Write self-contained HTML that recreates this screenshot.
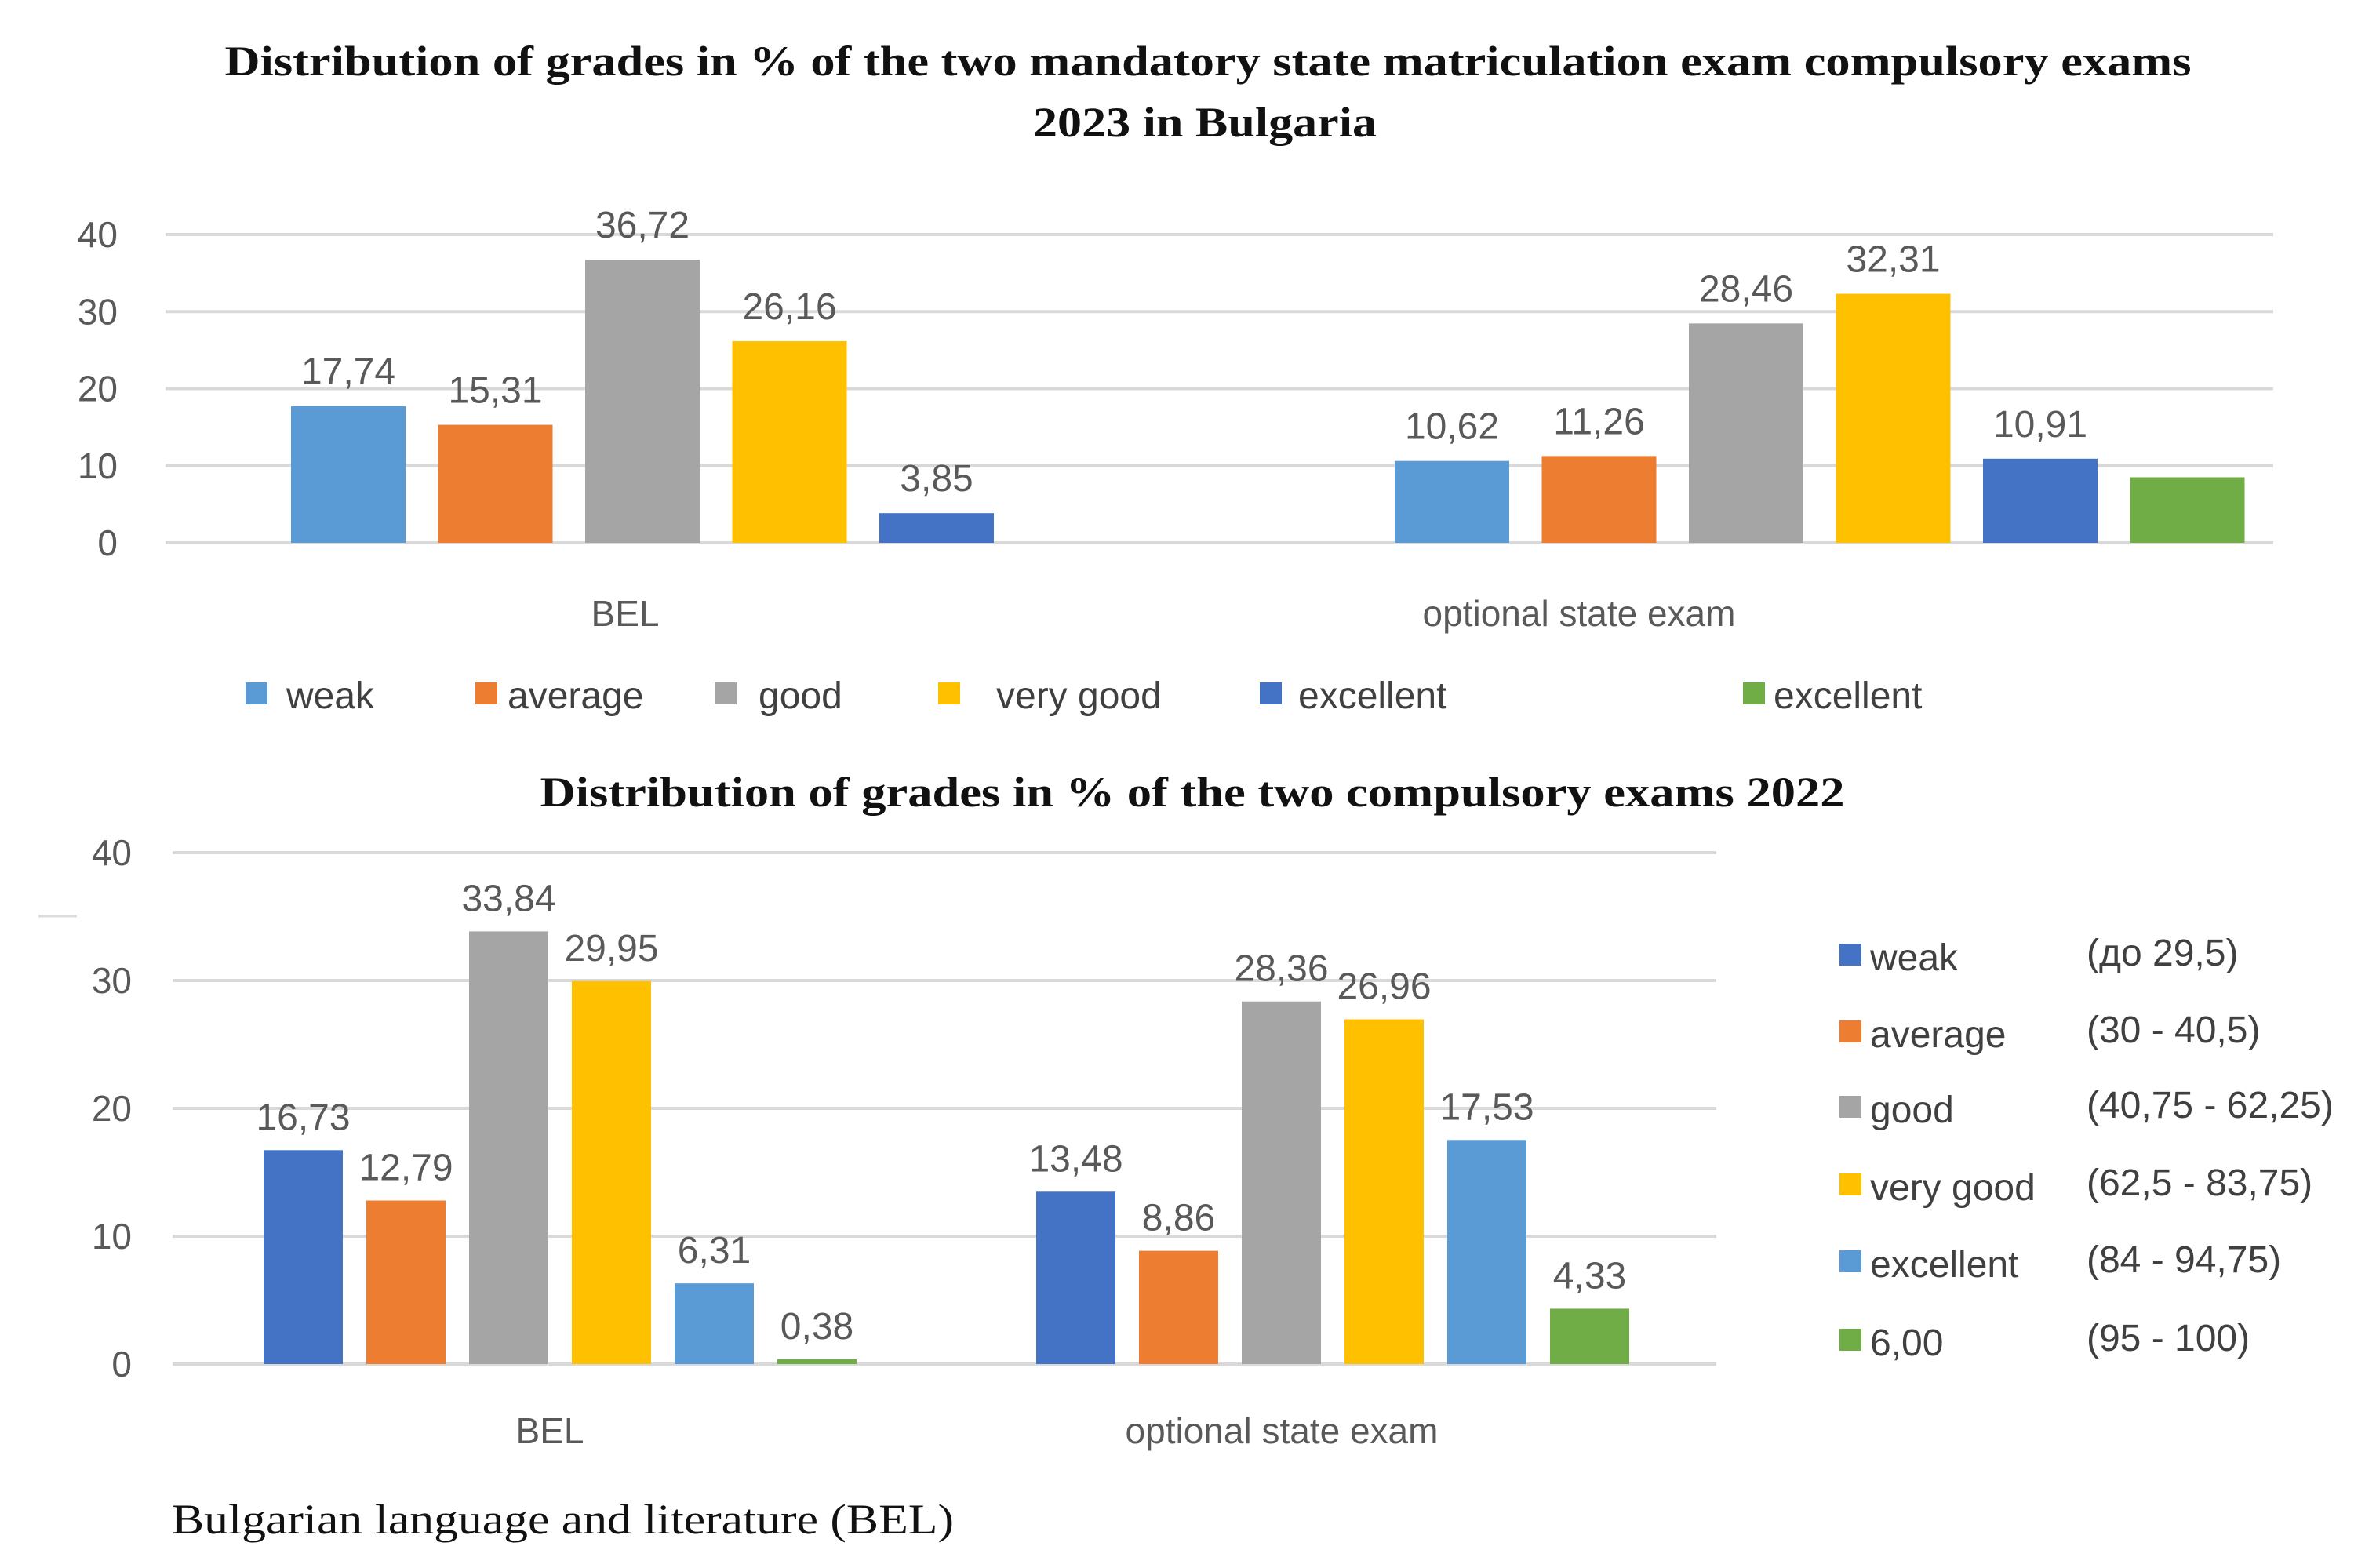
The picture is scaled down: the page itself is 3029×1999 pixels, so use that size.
<!DOCTYPE html>
<html><head><meta charset="utf-8"><style>
html,body{margin:0;padding:0;background:#fff}
svg{display:block}
text{font-family:"Liberation Sans","DejaVu Sans",sans-serif}
text.t{font-family:"Liberation Serif",serif;font-weight:bold;fill:#111}
text.f{font-family:"Liberation Serif",serif;fill:#111}
.v{fill:#595959;font-size:48px}
.ax{fill:#595959;font-size:46px}
.lg{fill:#404040;font-size:48px}
</style></head><body>
<svg id="c" width="3029" height="1999" viewBox="0 0 3029 1999" xmlns="http://www.w3.org/2000/svg">
<text class="t" x="1540" y="96" font-size="54" text-anchor="middle" textLength="2507" lengthAdjust="spacingAndGlyphs">Distribution of grades in % of the two mandatory state matriculation exam compulsory exams</text>
<text class="t" x="1536" y="174" font-size="54" text-anchor="middle" textLength="438" lengthAdjust="spacingAndGlyphs">2023 in Bulgaria</text>
<text class="t" x="1520" y="1028" font-size="54" text-anchor="middle" textLength="1663" lengthAdjust="spacingAndGlyphs">Distribution of grades in % of the two compulsory exams 2022</text>
<text class="f" x="219" y="1955" font-size="54" textLength="997" lengthAdjust="spacingAndGlyphs">Bulgarian language and literature (BEL)</text>
<line x1="49" y1="1168" x2="98" y2="1168" stroke="#ddd" stroke-width="3"/>
<g id="top"></g><g id="bot"></g>
</svg>
<script>
const ticks = [0, 10, 20, 30, 40];
const categories = ["BEL", "optional state exam"];
const top2023BEL = [17.74, 15.31, 36.72, 26.16, 3.85];
const top2023Opt = [10.62, 11.26, 28.46, 32.31, 10.91, 8.5];
const top2023BELLabels = ["17,74", "15,31", "36,72", "26,16", "3,85"];
const top2023OptLabels = ["10,62", "11,26", "28,46", "32,31", "10,91", ""];
const bot2022BEL = [16.73, 12.79, 33.84, 29.95, 6.31, 0.38];
const bot2022Opt = [13.48, 8.86, 28.36, 26.96, 17.53, 4.33];
const bot2022BELLabels = ["16,73", "12,79", "33,84", "29,95", "6,31", "0,38"];
const bot2022OptLabels = ["13,48", "8,86", "28,36", "26,96", "17,53", "4,33"];
const legendTop = ["weak", "average", "good", "very good", "excellent", "excellent"];
const legendBot = ["weak", "average", "good", "very good", "excellent", "6,00"];
const legendBotRanges = ["(до 29,5)", "(30 - 40,5)", "(40,75 - 62,25)", "(62,5 - 83,75)", "(84 - 94,75)", "(95 - 100)"];

const NS = "http://www.w3.org/2000/svg";
function mk(p, tag, a, txt) {
  const e = document.createElementNS(NS, tag);
  for (const k in a) e.setAttribute(k, a[k]);
  if (txt !== undefined) e.textContent = txt;
  p.appendChild(e); return e;
}
const topCols = ["#5B9BD5", "#ED7D31", "#A5A5A5", "#FFC000", "#4472C4", "#70AD47"];
const botCols = ["#4472C4", "#ED7D31", "#A5A5A5", "#FFC000", "#5B9BD5", "#70AD47"];

function chart(g, cfg) {
  const y = v => cfg.y0 - v / 10 * cfg.unit;
  ticks.forEach(t => {
    const l = mk(g, "line", {x1: cfg.gx0, x2: cfg.gx1, y1: y(t), y2: y(t), stroke: "#d9d9d9", "stroke-width": 4});
    
    
    const tx = mk(g, "text", {x: cfg.tx, y: y(t) + 16, "text-anchor": "end", class: "ax"}, String(t));
    
    
  });
  cfg.groups.forEach((grp, gi) => {
    grp.vals.forEach((v, i) => {
      const x = grp.x0 + i * cfg.step;
      const r = mk(g, "rect", {x: x, y: y(v), width: cfg.bw, height: y(0) - y(v), fill: cfg.cols[i]});
      
      
      if (grp.labels[i]) {
        const t = mk(g, "text", {x: x + cfg.bw / 2, y: y(v) - cfg.lo, "text-anchor": "middle", class: "v", "font-size": cfg.vfs}, grp.labels[i]);
        
        
      }
    });
    const c = mk(g, "text", {x: grp.cx, y: cfg.cy, "text-anchor": "middle", class: "ax"}, categories[gi]);
    
    
  });
}
const gt = document.getElementById("top");
chart(gt, {id: "2023", y0: 692, unit: 98.25, gx0: 211, gx1: 2898, tx: 150, bw: 146, step: 187.5, cols: topCols, lo: 28, vfs: 50, cy: 798,
  groups: [{x0: 371, vals: top2023BEL, labels: top2023BELLabels, cx: 797},
           {x0: 1778, vals: top2023Opt, labels: top2023OptLabels, cx: 2013}]});
const gb = document.getElementById("bot");
chart(gb, {id: "2022", y0: 1739, unit: 163, gx0: 220, gx1: 2188, tx: 168, bw: 101, step: 131, cols: botCols, lo: 26, vfs: 44, cy: 1840,
  groups: [{x0: 336, vals: bot2022BEL, labels: bot2022BELLabels, cx: 701},
           {x0: 1321, vals: bot2022Opt, labels: bot2022OptLabels, cx: 1634}]});

const ltSq = [313, 606, 911, 1196, 1606, 2222];
const ltTx = [365, 647, 967, 1270, 1655, 2261];
legendTop.forEach((n, i) => {
  const s = mk(gt, "rect", {x: ltSq[i], y: 870, width: 28, height: 28, fill: topCols[i]});
  
  
  const t = mk(gt, "text", {x: ltTx[i], y: 903, class: "lg"}, n);
  
  
});
const lbY = [1221, 1319, 1415, 1514, 1612, 1712];
legendBot.forEach((n, i) => {
  const s = mk(gb, "rect", {x: 2345, y: lbY[i] - 18, width: 28, height: 28, fill: botCols[i]});
  
  
  const t = mk(gb, "text", {x: 2384, y: lbY[i] + 16, class: "lg"}, n);
  
  
  const r = mk(gb, "text", {x: 2660, y: lbY[i] + 10, class: "lg", "font-size": 44}, legendBotRanges[i]);
  
  
});
</script>
</body></html>
